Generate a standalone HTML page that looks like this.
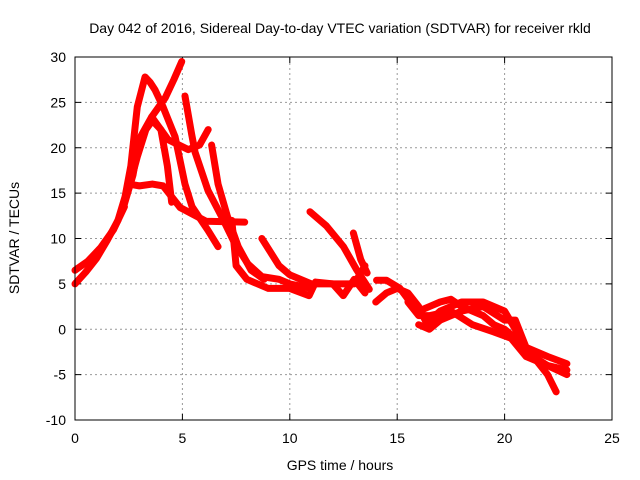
<!DOCTYPE html>
<html><head><meta charset="utf-8"><style>
body{margin:0;background:#fff;}
svg{display:block;font-family:"Liberation Sans",sans-serif;}
</style></head><body>
<svg id="chart" width="640" height="480">
<text x="340" y="33" font-size="14" text-anchor="middle">Day 042 of 2016, Sidereal Day-to-day VTEC variation (SDTVAR) for receiver rkld</text>
<text transform="translate(19,238) rotate(-90)" font-size="14" text-anchor="middle">SDTVAR / TECUs</text>
<text x="340" y="470" font-size="14" text-anchor="middle">GPS time / hours</text>
<g id="grid"></g><g id="ticks"></g><g id="series"></g>
<rect x="75" y="57" width="537" height="363" fill="none" stroke="#000"/>
</svg>
<script>
const xTicks=[0,5,10,15,20,25];
const yTicks=[-10,-5,0,5,10,15,20,25,30];
const traceA=[[0,5],[0.5,6.3],[1,7.8],[1.5,9.8],[2,12],[2.33,14.6],[2.6,18],[2.9,24.5],[3.26,27.8],[3.5,27.2],[3.72,26.4],[4.1,24.5],[4.66,21.2],[5.12,16],[5.45,13.5],[6.19,10.9],[6.66,9.1]];
const traceA2=[[0,6.5],[0.6,7.5],[1.2,9],[1.8,11],[2.3,13.5]];
const traceB=[[2.3,13.8],[2.7,17],[3.0,21],[3.57,23.4],[4.33,20.9],[5.27,19.8],[5.8,20.3],[6.2,22]];
const traceC=[[2.5,15.5],[2.9,19],[3.3,22],[3.6,23],[4.0,22],[4.3,18],[4.5,14]];
const traceD=[[2.5,16],[3.0,15.8],[3.6,16],[4.1,15.8],[4.9,13.4],[6.1,11.9],[7.9,11.8]];
const traceE=[[3.57,23.4],[4.2,25.5],[4.6,27.5],[4.97,29.5]];
const traceF=[[5.12,25.7],[5.43,21.5],[5.59,19.5],[6.19,15.3],[6.83,12.4],[7.45,9.4],[8.05,7.2],[8.7,5.8],[9.5,5.5],[10,5],[11,4.5]];
const traceF2=[[6.36,20.3],[6.66,16],[7.1,12.4],[7.6,9.1],[8.2,6.5],[8.8,5.5]];
const traceG=[[7.3,12],[7.5,7],[8,5.5],[9,4.5],[10,4.5],[10.9,3.7],[11.2,5.2],[12,5],[12.49,3.7],[13,5.5],[13.5,4]];
const traceH=[[10.94,12.95],[11.5,11.8],[11.7,11.4],[12.5,9.1],[13.1,6.6],[13.7,4.4]];
const traceI=[[12.96,10.6],[13.3,7.7],[13.6,6.2]];
const traceJ=[[8.7,10],[9.5,7],[10,6],[11,5],[12,5],[13,5],[13.5,7]];
const traceK=[[14,3],[14.5,4],[15,4.5],[15.5,4],[16,2.5],[16.37,0.65],[17,2],[18,3],[19,3],[20,2],[20.5,0],[21,-2],[22,-5],[22.4,-6.9]];
const traceL=[[14.04,5.4],[14.5,5.4],[15.13,4.5],[15.7,2.7],[16,2],[16.5,2.5],[17,3],[17.5,3.3],[18,2.5],[19,1.5],[19.5,0.5],[20,0],[20.5,-1],[21,-2.5],[22,-4],[22.9,-5]];
const traceM=[[16,0.5],[16.5,0],[17,1],[18,2],[19,2.5],[20,1],[20.5,1],[21,-2],[22,-3],[22.9,-3.8]];
const traceN=[[15.5,3],[16,1.5],[16.5,1.5],[17.5,2],[18.5,0.5],[19.5,-0.3],[20.3,-1],[21,-3],[22,-4],[22.9,-4.5]];
const traces=[traceA,traceA2,traceB,traceC,traceD,traceE,traceF,traceF2,traceG,traceH,traceI,traceJ,traceK,traceL,traceM,traceN];
const NS='http://www.w3.org/2000/svg';
const X0=75,X1=612,Y0=420,Y1=57;
function sx(v){return X0+(v-0)/(25-0)*(X1-X0);}
function sy(v){return Y0-(v+10)/(40)*(Y0-Y1);}
function mk(t,a){const e=document.createElementNS(NS,t);for(const k in a)e.setAttribute(k,a[k]);return e;}
const grid=document.getElementById('grid'),ticks=document.getElementById('ticks'),ser=document.getElementById('series');
xTicks.forEach(v=>{const x=sx(v);
 if(v>0&&v<25){const g=mk('line',{x1:x,x2:x,y1:Y0,y2:Y1,stroke:'#999','stroke-dasharray':'2,3'});
 
 grid.appendChild(g);}
 ticks.appendChild(mk('line',{x1:x,x2:x,y1:Y0,y2:Y0-6,stroke:'#000'}));
 ticks.appendChild(mk('line',{x1:x,x2:x,y1:Y1,y2:Y1+6,stroke:'#000'}));
 const l=mk('text',{x:x,y:443,'font-size':14,'text-anchor':'middle'});l.textContent=v;
 
 ticks.appendChild(l);});
yTicks.forEach(v=>{const y=sy(v);
 if(v>-10&&v<30){const g=mk('line',{x1:X0,x2:X1,y1:y,y2:y,stroke:'#999','stroke-dasharray':'2,3'});
 
 grid.appendChild(g);}
 ticks.appendChild(mk('line',{x1:X0,x2:X0+6,y1:y,y2:y,stroke:'#000'}));
 ticks.appendChild(mk('line',{x1:X1,x2:X1-6,y1:y,y2:y,stroke:'#000'}));
 const l=mk('text',{x:X0-9,y:y+5,'font-size':14,'text-anchor':'end'});l.textContent=v;
 
 ticks.appendChild(l);});
traces.forEach((tr,i)=>{
 const p=mk('polyline',{points:tr.map(d=>sx(d[0])+','+sy(d[1])).join(' '),fill:'none',stroke:'#f00','stroke-width':7,'stroke-linejoin':'round','stroke-linecap':'round'});
 
 
 ser.appendChild(p);});
</script>
</body></html>
